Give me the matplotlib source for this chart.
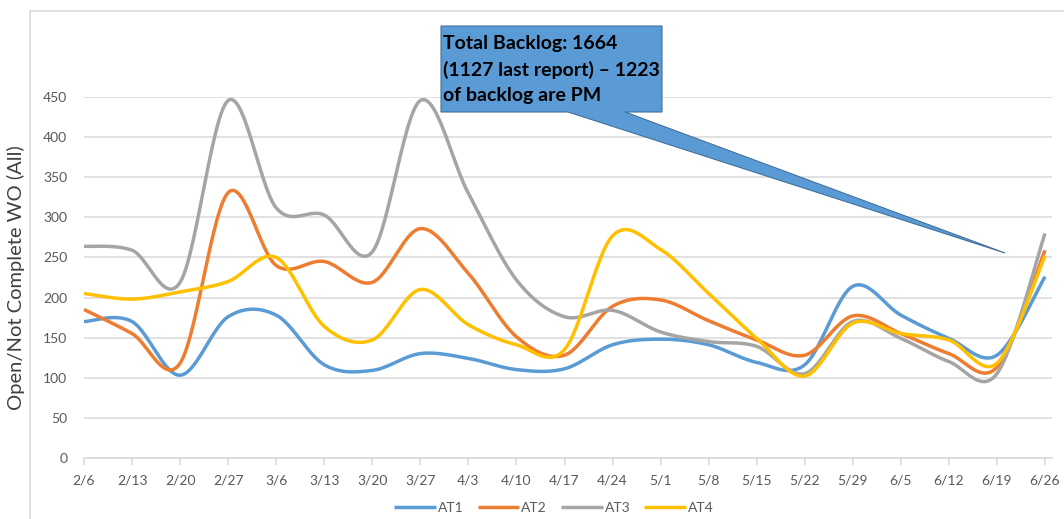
import numpy as np
import matplotlib
matplotlib.use("Agg")
import matplotlib.pyplot as plt
from matplotlib.patches import Polygon, Rectangle

plt.rcParams["font.family"] = ["Lato", "DejaVu Sans"]

# data
weeks = ["2/6", "2/13", "2/20", "2/27", "3/6", "3/13", "3/20", "3/27", "4/3", "4/10", "4/17",
         "4/24", "5/1", "5/8", "5/15", "5/22", "5/29", "6/5", "6/12", "6/19", "6/26"]
at1 = [170, 170, 103, 176, 178, 116, 109, 130, 124, 110, 111, 141, 148, 141, 119, 116, 214, 178, 149, 128, 226]
at2 = [185, 155, 118, 331, 240, 245, 219, 286, 230, 151, 128, 189, 197, 171, 147, 128, 177, 155, 130, 113, 259]
at3 = [264, 259, 219, 446, 312, 303, 257, 446, 330, 222, 176, 184, 157, 145, 139, 105, 170, 149, 120, 105, 280]
at4 = [205, 198, 207, 220, 250, 164, 147, 210, 166, 141, 135, 277, 260, 205, 149, 102, 168, 155, 147, 118, 252]
series_names = ["AT1", "AT2", "AT3", "AT4"]
colors = ["#5B9BD5", "#ED7D31", "#A5A5A5", "#FFC000"]

callout_lines = ["Total Backlog: 1664", "(1127 last report) \u2013 1223", "of backlog are PM"]

W, H = 1064, 519


def fig_xy(x, y):
    # pixel position -> figure fraction
    return (x / W, 1 - y / H)


def smooth(xs, ys, n=30):
    # Excel-like smoothed line: cubic bezier with catmull-rom tangents
    pts = np.column_stack([xs, ys]).astype(float)
    out = [pts[0]]
    t = np.linspace(0, 1, n)[1:, None]
    for i in range(len(pts) - 1):
        p0 = pts[max(i - 1, 0)]
        p1 = pts[i]
        p2 = pts[i + 1]
        p3 = pts[min(i + 2, len(pts) - 1)]
        c1 = p1 + (p2 - p0) / 6
        c2 = p2 - (p3 - p1) / 6
        seg = ((1 - t) ** 3) * p1 + 3 * ((1 - t) ** 2) * t * c1 + 3 * (1 - t) * t ** 2 * c2 + t ** 3 * p2
        out.extend(seg)
    out = np.array(out)
    return out[:, 0], out[:, 1]


fig = plt.figure(figsize=(W / 100, H / 100), dpi=100)
ax = fig.add_axes([84 / W, 1 - 457.7 / H, (1052 - 84) / W, (457.7 - 97.3) / H])

# chart area border (only top and left show)
fig.patches.append(Rectangle(fig_xy(30, 600), (1100 - 30) / W, (600 - 11) / H,
                             transform=fig.transFigure, fill=False,
                             edgecolor="#D9D9D9", linewidth=1.2, zorder=0))

x = np.arange(len(weeks))
for name, vals, c in zip(series_names, [at1, at2, at3, at4], colors):
    sx, sy = smooth(x, vals)
    ax.plot(sx, sy, color=c, linewidth=2.5, label=name, clip_on=False,
            solid_capstyle="butt", zorder=3)

ax.set_xlim(0, 20 + 7 / 48.05)
ax.set_ylim(0, 450)
ax.set_yticks(np.arange(0, 451, 50))
ax.set_xticks(x)
ax.set_xticklabels(weeks)
ax.grid(axis="y", color="#D9D9D9", linewidth=1.1)
ax.set_axisbelow(True)
for s in ["top", "right", "left"]:
    ax.spines[s].set_visible(False)
ax.spines["bottom"].set_color("#D9D9D9")
ax.spines["bottom"].set_linewidth(1.1)
ax.tick_params(axis="x", labelsize=10, length=5, width=1.1,
               color="#D9D9D9", pad=7, labelcolor="#595959")
ax.tick_params(axis="y", labelsize=10, length=0, pad=12, labelcolor="#595959")

fig.text(16 / W, 1 - 278 / H, "Open/Not Complete WO (All)", rotation=90,
         ha="center", va="center", fontsize=14.5, color="#404040")

leg = fig.legend(loc="center", bbox_to_anchor=fig_xy(554, 508), ncol=4, frameon=False,
                 fontsize=10, handlelength=3.0, handletextpad=0.15, columnspacing=1.0,
                 labelcolor="#595959")

# callout box with pointer
shape = [(441, 26), (662, 26), (662, 112), (625, 112), (1005, 253), (568, 112), (441, 112)]
fig.patches.append(Polygon([fig_xy(px, py) for px, py in shape], closed=True,
                           transform=fig.transFigure, facecolor="#5B9BD5",
                           edgecolor="#41719C", linewidth=0.8, zorder=5))
for i, line in enumerate(callout_lines):
    fig.text(443 / W, 1 - (44 + 25.5 * i) / H, line, ha="left", va="center",
             fontsize=14, fontweight="bold", color="black", zorder=6)

fig.savefig("out.png", dpi=100)
